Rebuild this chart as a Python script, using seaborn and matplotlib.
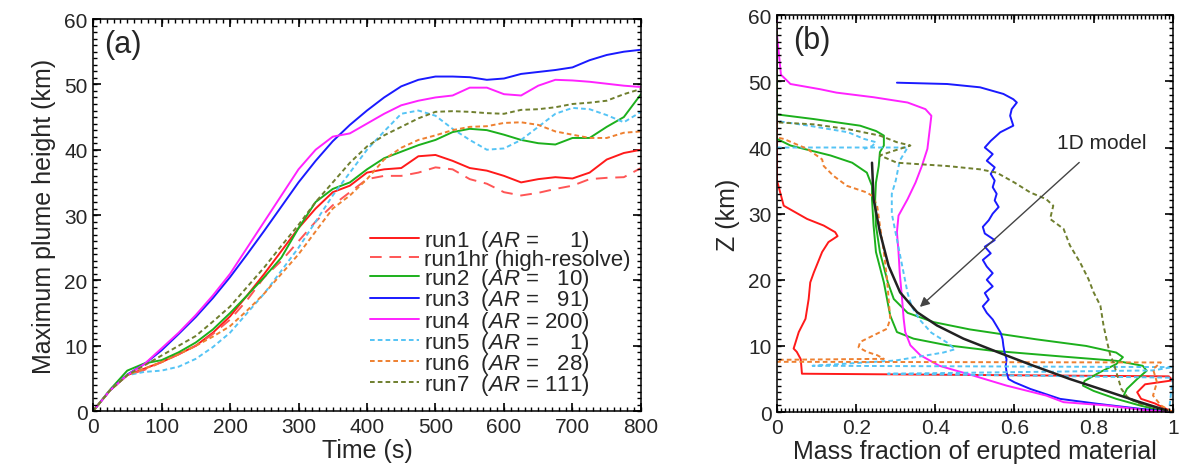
import matplotlib
matplotlib.use("Agg")
import matplotlib.pyplot as plt
import seaborn as sns
import pandas as pd
import numpy as np

# ---------------- Panel (a) data ----------------
time_s = [0, 25, 50, 75, 100, 125, 150, 175, 200, 225, 250, 275, 300, 325, 350, 375,
          400, 425, 450, 475, 500, 525, 550, 575, 600, 625, 650, 675, 700, 725, 750, 775, 800]
run1 = [0, 3.2, 5.5, 6.5, 7.5, 8.7, 10, 12, 14.5, 17.7, 21, 24.5, 28, 31, 33.5, 34.5,
        36.5, 37, 37.2, 39, 39.2, 38.3, 37.2, 36.8, 36, 35, 35.5, 35.8, 35.6, 36.5, 38.5, 39.5, 40]
run1hr = [0, 3.2, 5.5, 6.3, 7.5, 8.7, 10, 11.8, 14, 17, 20.5, 23, 26, 29, 31.5, 33.5,
          35.5, 36, 36, 36.5, 37.3, 37, 35.5, 34.8, 33.5, 33, 33.4, 34, 34.5, 35.5, 35.7, 35.8, 37.2]
run2 = [0, 3.3, 6.2, 7.3, 7.8, 9.0, 10.5, 12.5, 15, 17.7, 20.5, 23.5, 28, 32, 34, 35,
        37, 38.7, 39.7, 40.7, 41.5, 42.7, 43.2, 43, 42.3, 41.5, 41, 40.8, 41.8, 41.8, 43.5, 45, 48.5]
run3 = [0, 3.2, 5.6, 7.2, 9.3, 11.8, 14.4, 17.3, 20.5, 24, 27.6, 31.3, 35, 38.3, 41.3, 43.8,
        46, 48, 49.7, 50.7, 51.2, 51.2, 51.1, 50.7, 50.9, 51.6, 51.9, 52.2, 52.6, 53.7, 54.5, 55, 55.3]
run4 = [0, 3.2, 5.5, 7.2, 9.6, 12, 14.7, 17.7, 21, 25, 29, 33, 37, 40, 42, 42.5,
        44, 45.5, 46.8, 47.5, 48, 48.3, 49.5, 49.5, 48.5, 48.3, 49.8, 50.7, 50.6, 50.4, 50.1, 49.8, 49.6]
run5 = [0, 3.2, 5.5, 6.0, 6.2, 6.8, 8.0, 9.8, 12, 15, 18, 21.5, 25, 29, 33, 36.5,
        40, 42.8, 45.5, 46, 45.2, 43.2, 41.5, 40, 40.2, 41.5, 43.5, 45.5, 46.4, 46.2, 45.3, 44.2, 45.8]
run6 = [0, 3.2, 5.5, 6.5, 7.5, 8.7, 10, 11.4, 13, 15.4, 18, 21, 24, 27.5, 31, 33,
        35.5, 38.5, 40.3, 41.5, 42.2, 43, 43.5, 43.6, 44.1, 44.2, 43.8, 42.8, 42.3, 41.8, 41.8, 42.6, 42.8]
run7 = [0, 3.2, 5.5, 7.0, 8.5, 10, 11.5, 13.7, 16, 19, 22, 25.3, 28.5, 32, 35, 38,
        40.5, 42.2, 43.5, 44.8, 45.8, 45.9, 45.8, 45.6, 45.5, 46.1, 46.2, 46.5, 47, 47.2, 47.5, 48.5, 49.3]

legend_labels = [
    "run1  ($\\mathit{AR}$ =     1)",
    "run1hr (high-resolve)",
    "run2  ($\\mathit{AR}$ =   10)",
    "run3  ($\\mathit{AR}$ =   91)",
    "run4  ($\\mathit{AR}$ = 200)",
    "run5  ($\\mathit{AR}$ =     1)",
    "run6  ($\\mathit{AR}$ =   28)",
    "run7  ($\\mathit{AR}$ = 111)",
]

# ---------------- Panel (b) data ----------------
red_f = [0, 0, 0.0, 0.017, 0.076, 0.118, 0.147, 0.153, 0.13, 0.114, 0.093, 0.084, 0.08, 0.072,
         0.055, 0.042, 0.05, 0.06, 0.063, 0.99, 1.0, 0.93, 0.91, 0.92, 0.955, 1.0]
red_z = [60, 45, 35, 31.2, 29.2, 28.2, 27.2, 26.6, 25.7, 24.2, 21.1, 19.6, 17.1, 14.1,
         12.1, 9.6, 9.1, 8.0, 5.8, 5.4, 4.8, 4.2, 3.0, 2.0, 1.3, 0]

greenA_f = [0, 0, 0.093, 0.21, 0.25, 0.27, 0.27, 0.26, 0.257, 0.25, 0.248, 0.25, 0.26, 0.28,
            0.295, 0.33, 0.396, 0.487, 0.655, 0.781, 0.857, 0.874, 0.857, 0.815, 0.777,
            0.773, 0.80, 0.857, 0.92, 0.98]
greenA_z = [60, 45, 44.3, 43.3, 42.5, 41.8, 40.3, 39.3, 37.2, 34.7, 32.2, 28.2, 24.2, 19.6,
            17.1, 15.0, 13.6, 12.5, 11.0, 10.0, 9.0, 8.3, 7.25, 6.0, 4.7, 4.0, 3.2, 2.0, 0.95, 0.1]

greenB_f = [0, 0.034, 0.135, 0.19, 0.227, 0.24, 0.24, 0.244, 0.25, 0.27, 0.286, 0.303,
            0.345, 0.43, 0.54, 0.72, 0.857, 0.924, 0.934, 0.91, 0.884, 0.876, 0.90, 0.94, 0.99]
greenB_z = [41.3, 40.3, 38.8, 37.7, 36.2, 34.2, 32.2, 28.2, 24.2, 19.6, 14.6, 12.1,
            11.1, 10.1, 9.3, 8.4, 7.75, 7.0, 6.25, 5.0, 3.5, 2.5, 1.7, 1.0, 0.1]

blue_f = [0.303, 0.43, 0.513, 0.572, 0.597, 0.606, 0.593, 0.589, 0.597, 0.564, 0.54,
          0.525, 0.545, 0.53, 0.55, 0.54, 0.55, 0.545, 0.555, 0.55, 0.56, 0.545, 0.535,
          0.52, 0.525, 0.55, 0.525, 0.54, 0.52, 0.53, 0.545, 0.53, 0.545, 0.525, 0.535,
          0.52, 0.53, 0.545, 0.555, 0.565, 0.57, 0.572, 0.575, 0.58, 0.578, 0.58, 0.585,
          0.60, 0.64, 0.665, 0.715, 0.81, 0.917, 1.0]
blue_z = [49.8, 49.6, 49.1, 48.1, 47.3, 46.8, 45.8, 44.8, 43.3, 42.3, 41.0,
          40, 39, 38, 37, 36, 35, 34, 33, 32, 31, 30, 29,
          28, 27, 26, 25, 24, 23, 22, 21, 20, 19, 18, 17,
          16, 15, 14, 13, 12, 11, 10, 9, 8, 7, 6, 5,
          4.5, 3.5, 3.0, 2.0, 1.25, 0.5, 0]

magenta_f = [0, 0, 0.01, 0.017, 0.034, 0.11, 0.15, 0.244, 0.33, 0.375, 0.39, 0.385, 0.38,
             0.366, 0.35, 0.33, 0.307, 0.303, 0.307, 0.31, 0.316, 0.32, 0.324, 0.337,
             0.362, 0.41, 0.497, 0.58, 0.68, 0.724, 0.833, 0.934, 1.0]
magenta_z = [60, 57, 51, 50.6, 49.6, 48.8, 48.3, 47.6, 46.8, 45.8, 44.8, 42.3, 39.8,
             37.2, 34.7, 32.2, 29.7, 27.2, 24.2, 21.1, 17.1, 14.1, 12.1, 10.1,
             8.6, 7.0, 5.5, 4.0, 2.5, 1.5, 1.0, 0.25, 0]

cyanA_f = [0, 0, 0.08, 0.18, 0.22, 0.25, 0.24, 0.22]
cyanA_z = [60, 44, 43.3, 42.3, 41.3, 40.8, 40.2, 39.8]
cyanB_f = [0, 0.33, 0.31, 0.30, 0.29, 0.29, 0.30, 0.31, 0.32, 0.33, 0.34, 0.36, 0.39,
           0.43, 0.45, 0.42, 0.30, 0.09, 1.0, 0.95, 0.28, 1.0, 0.99]
cyanB_z = [40, 40, 38, 35, 33, 30, 27, 24, 21, 18, 16, 14, 12, 10.5, 9.5, 9.0, 7.8,
           7.0, 6.8, 6.3, 5.8, 5.2, 0]

orange_f = [0, 0, 0.017, 0.076, 0.1, 0.114, 0.118, 0.143, 0.177, 0.227, 0.24, 0.253,
            0.26, 0.27, 0.278, 0.282, 0.286, 0.278, 0.244, 0.21, 0.206, 0.227, 0.253,
            0.27, 0.0, 0.0, 0.97, 0.95, 0.96, 0.95, 0.97, 1.0]
orange_z = [60, 41.5, 41.3, 39.8, 38.8, 38.2, 37.2, 35.7, 34.2, 33.2, 32.7, 31.2,
            28.2, 24.2, 20.1, 17.1, 14.1, 12.6, 11.6, 10.6, 9.8, 9.1, 8.6,
            8.05, 7.9, 7.6, 7.5, 6.5, 4.5, 2.5, 1.0, 0]

olive_f = [0, 0, 0.093, 0.177, 0.26, 0.303, 0.337, 0.295, 0.26, 0.303, 0.43, 0.513,
           0.555, 0.6, 0.64, 0.68, 0.698, 0.69, 0.724, 0.74, 0.766, 0.787, 0.8, 0.817,
           0.825, 0.834, 0.842, 0.85, 0.86, 0.87, 0.885, 0.917, 0.985]
olive_z = [60, 43.8, 43.5, 42.8, 41.8, 40.8, 40.3, 39.5, 38.8, 37.7, 37.2, 36.7,
           36.2, 34.7, 33.2, 32.2, 31.2, 29.2, 27.7, 25.2, 22.6, 20.1, 18.1, 16.1,
           13.1, 10.6, 8.6, 7.5, 5.5, 3.5, 2.3, 1.25, 0.25]

model_f = [0.24, 0.244, 0.26, 0.282, 0.311, 0.354, 0.404, 0.471, 0.556, 0.648, 0.74,
           0.842, 0.917, 0.985]
model_z = [37.7, 32.2, 27.2, 22.1, 18.1, 15.1, 13.1, 11.1, 9.1, 7.0, 5.0, 3.0, 1.5, 0.25]

# ---------------- styling ----------------
sns.set_theme(style="ticks")
plt.rcParams["font.family"] = ["Liberation Sans", "DejaVu Sans"]
plt.rcParams["mathtext.fontset"] = "custom"
plt.rcParams["mathtext.rm"] = "Liberation Sans"
plt.rcParams["mathtext.it"] = "Liberation Sans:italic"

C_RED = "#ff1a1a"
C_RED_D = "#ff5555"
C_GREEN = "#1cb01c"
C_BLUE = "#1a1aff"
C_MAG = "#ff22ff"
C_CYAN = "#55c4f5"
C_ORANGE = "#ee8030"
C_OLIVE = "#6f7f2e"
DOT = (0, (2.4, 1.6))
DASH = (0, (6, 4))
LW = 1.4

fig = plt.figure(figsize=(11.85, 4.77), dpi=100)
pos1 = [0.0785, 0.136, 0.4624, 0.822]
pos2 = [0.6557, 0.134, 0.334, 0.832]
ax1 = fig.add_axes(pos1)
ax2 = fig.add_axes(pos2)

series_a = [
    (run1, C_RED, "-", legend_labels[0]),
    (run1hr, C_RED_D, DASH, legend_labels[1]),
    (run2, C_GREEN, "-", legend_labels[2]),
    (run3, C_BLUE, "-", legend_labels[3]),
    (run4, C_MAG, "-", legend_labels[4]),
    (run5, C_CYAN, DOT, legend_labels[5]),
    (run6, C_ORANGE, DOT, legend_labels[6]),
    (run7, C_OLIVE, DOT, legend_labels[7]),
]
for vals, col, ls, lab in series_a:
    df = pd.DataFrame({"t": time_s, "h": vals})
    sns.lineplot(data=df, x="t", y="h", ax=ax1, color=col, linestyle=ls,
                 linewidth=LW, label=lab, estimator=None, sort=False)

ax1.set_xlabel("Time (s)", fontsize=18, labelpad=2)
ax1.set_ylabel("Maximum plume height (km)", fontsize=18, labelpad=6)
ax1.text(0.02, 0.975, "(a)", transform=ax1.transAxes, fontsize=22, va="top", ha="left")
leg = ax1.legend(loc="upper left", bbox_to_anchor=(0.505, 0.468), frameon=False,
                 fontsize=16, handlelength=2.2, handletextpad=0.25, labelspacing=-0.17,
                 borderpad=0, borderaxespad=0)

series_b = [
    (red_f, red_z, C_RED, "-"),
    (greenA_f, greenA_z, C_GREEN, "-"),
    (greenB_f, greenB_z, C_GREEN, "-"),
    (blue_f, blue_z, C_BLUE, "-"),
    (magenta_f, magenta_z, C_MAG, "-"),
    (cyanA_f, cyanA_z, C_CYAN, DOT),
    (cyanB_f, cyanB_z, C_CYAN, DOT),
    (orange_f, orange_z, C_ORANGE, DOT),
    (olive_f, olive_z, C_OLIVE, DOT),
    (model_f, model_z, "#222222", "-"),
]
for fx, zz, col, ls in series_b:
    df = pd.DataFrame({"f": fx, "z": zz})
    sns.lineplot(data=df, x="f", y="z", ax=ax2, color=col, linestyle=ls,
                 linewidth=LW if col != "#222222" else 1.8, estimator=None, sort=False)

ax2.set_xlabel("Mass fraction of erupted material", fontsize=18, labelpad=2)
ax2.set_ylabel("Z (km)", fontsize=18, labelpad=6)
ax2.text(0.04, 0.975, "(b)", transform=ax2.transAxes, fontsize=22, va="top", ha="left")
ax2.annotate("1D model", xy=(0.361, 15.9), xytext=(0.82, 40.8), fontsize=15,
             ha="center", va="center",
             arrowprops=dict(arrowstyle="-|>", color="#444444", lw=1.0,
                             shrinkA=8, shrinkB=0, mutation_scale=14))

# major ticks
ax1.set_xticks(np.arange(0, 801, 100))
ax1.set_yticks(np.arange(0, 61, 10))
ax2.set_xticks([0, 0.2, 0.4, 0.6, 0.8, 1.0])
ax2.set_xticklabels(["0", "0.2", "0.4", "0.6", "0.8", "1"])
ax2.set_yticks(np.arange(0, 61, 10))
ax1.set_xlim(0, 800)
ax1.set_ylim(0, 60)
ax2.set_xlim(0, 1)
ax2.set_ylim(0, 60)

for ax in (ax1, ax2):
    ax.tick_params(axis="both", which="major", direction="in", top=True, right=True,
                   bottom=True, left=True, color="black", length=6, width=1.2,
                   pad=4, labelsize=15)
    for s in ax.spines.values():
        s.set_color("black")
        s.set_linewidth(1.1)

# fine tick marks (drawn on transparent overlay axes sharing the same scales)
fine_specs = [
    (pos1, (0, 800), (0, 60), np.arange(0, 801, 10), np.arange(0, 61, 1)),
    (pos2, (0, 1), (0, 60), np.linspace(0, 1, 101), np.arange(0, 61, 1)),
]
for pos, xl, yl, xt, yt in fine_specs:
    axm = fig.add_axes(pos, frameon=False)
    axm.patch.set_alpha(0)
    axm.set_xlim(*xl)
    axm.set_ylim(*yl)
    axm.set_xticks(xt)
    axm.set_yticks(yt)
    axm.tick_params(axis="both", which="major", direction="in", top=True, right=True,
                    bottom=True, left=True, labelbottom=False, labelleft=False,
                    labeltop=False, labelright=False, length=3, width=1.0, color="black")

fig.savefig("out.png", dpi=100)
